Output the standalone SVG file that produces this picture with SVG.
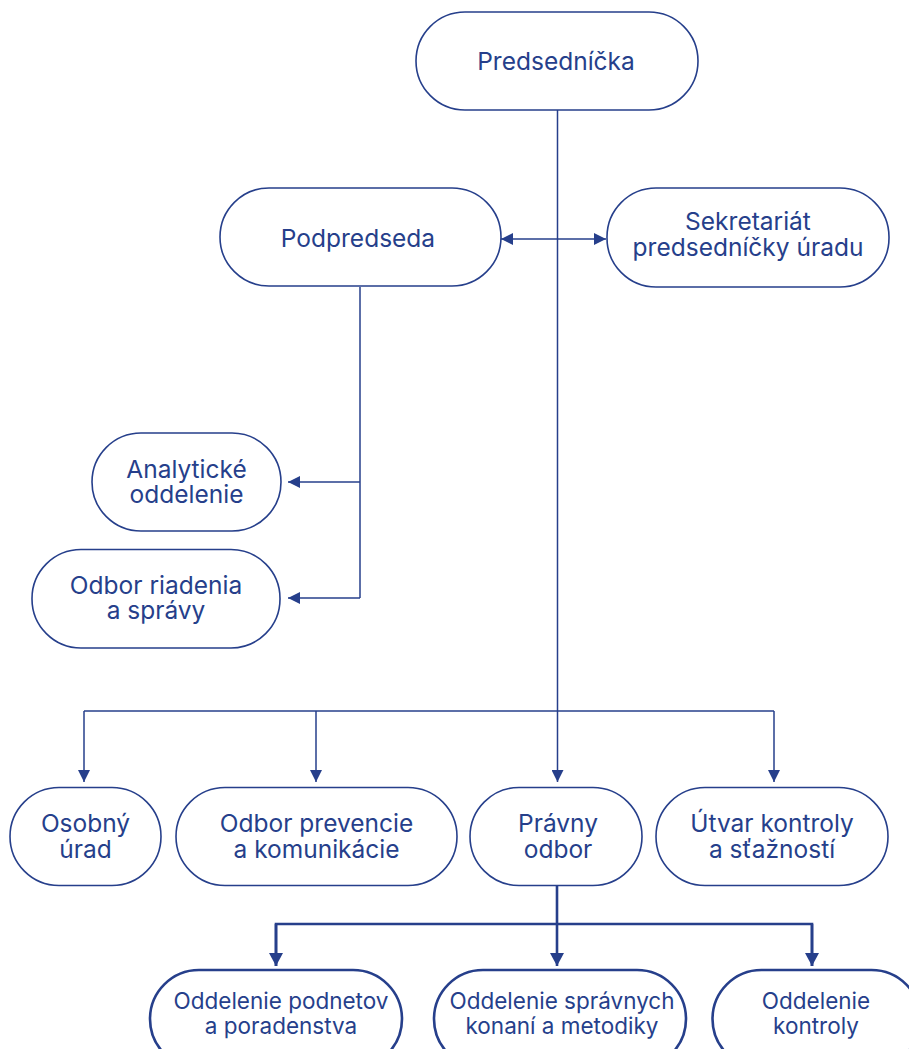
<svg xmlns="http://www.w3.org/2000/svg" width="909" height="1049" viewBox="0 0 909 1049">
<style>
.n rect{fill:#fff;stroke:#263f8b;stroke-width:1.6}
.n2 rect{fill:#fff;stroke:#263f8b;stroke-width:2.6}
text{font-family:Inter,"Noto Sans",sans-serif;fill:#263f8b;text-anchor:middle}
.t{font-size:24.5px}
.s{font-size:22.5px}
.c line,.c path{stroke:#263f8b;fill:none}
.thin{stroke-width:1.5}
.thick{stroke-width:2.6}
</style>
<defs>
<marker id="a" markerUnits="userSpaceOnUse" markerWidth="12" markerHeight="12" refX="12" refY="6" orient="auto-start-reverse"><path d="M0,0 L12,6 L0,12 z" fill="#263f8b"/></marker>
<marker id="b" markerUnits="userSpaceOnUse" markerWidth="13" markerHeight="14" refX="13" refY="7" orient="auto"><path d="M0,0 L13,7 L0,14 z" fill="#263f8b"/></marker>
</defs>
<g id="connectors" class="c">
<line class="thin" x1="557.5" y1="110" x2="557.5" y2="782" marker-end="url(#a)"/>
<line class="thin" x1="501" y1="239" x2="606" y2="239" marker-start="url(#a)" marker-end="url(#a)"/>
<line class="thin" x1="360" y1="287" x2="360" y2="598"/>
<line class="thin" x1="360" y1="482" x2="288" y2="482" marker-end="url(#a)"/>
<line class="thin" x1="360" y1="598" x2="288" y2="598" marker-end="url(#a)"/>
<line class="thin" x1="84" y1="711" x2="774" y2="711"/>
<line class="thin" x1="84" y1="711" x2="84" y2="782" marker-end="url(#a)"/>
<line class="thin" x1="316" y1="711" x2="316" y2="782" marker-end="url(#a)"/>
<line class="thin" x1="774" y1="711" x2="774" y2="782" marker-end="url(#a)"/>
<line class="thick" x1="557" y1="886" x2="557" y2="966" marker-end="url(#b)"/>
<path class="thick" d="M276,966 V924 H812 V966"/>
<line class="thick" x1="276" y1="924" x2="276" y2="966" marker-end="url(#b)"/>
<line class="thick" x1="812" y1="924" x2="812" y2="966" marker-end="url(#b)"/>
</g>
<g id="predsednicka" class="n"><rect x="416" y="12" width="282" height="98" rx="49"/><text class="t" x="556" y="69.5">Predsedníčka</text></g>
<g id="podpredseda" class="n"><rect x="220" y="188" width="281" height="98" rx="49"/><text class="t" x="358" y="246.5">Podpredseda</text></g>
<g id="sekretariat" class="n"><rect x="607" y="188" width="282" height="99" rx="49"/><text class="t" x="748" y="230">Sekretariát<tspan x="748" dy="26">predsedníčky úradu</tspan></text></g>
<g id="analyticke" class="n"><rect x="92" y="433" width="189" height="98" rx="49"/><text class="t" x="186.5" y="478">Analytické<tspan x="186.5" dy="25">oddelenie</tspan></text></g>
<g id="odbor-riadenia" class="n"><rect x="32" y="549.5" width="248" height="98.5" rx="49"/><text class="t" x="156" y="593.5">Odbor riadenia<tspan x="156" dy="25">a správy</tspan></text></g>
<g id="osobny" class="n"><rect x="10" y="787.5" width="151" height="98" rx="49"/><text class="t" x="85.5" y="832">Osobný<tspan x="85.5" dy="25.5">úrad</tspan></text></g>
<g id="odbor-prevencie" class="n"><rect x="176" y="787.5" width="281" height="98" rx="49"/><text class="t" x="316.5" y="832">Odbor prevencie<tspan x="316.5" dy="25.5">a komunikácie</tspan></text></g>
<g id="pravny" class="n"><rect x="470" y="787.5" width="172" height="98" rx="49"/><text class="t" x="558" y="832">Právny<tspan x="558" dy="25.5">odbor</tspan></text></g>
<g id="utvar" class="n"><rect x="656" y="787.5" width="232" height="98" rx="49"/><text class="t" x="772" y="832">Útvar kontroly<tspan x="772" dy="25.5">a sťažností</tspan></text></g>
<g id="podnetov" class="n2"><rect x="150" y="970" width="252" height="98" rx="49"/><text class="s" x="281" y="1008.5">Oddelenie podnetov<tspan x="281" dy="25">a poradenstva</tspan></text></g>
<g id="spravnych" class="n2"><rect x="434" y="970" width="252" height="98" rx="49"/><text class="s" x="562" y="1008.5">Oddelenie správnych<tspan x="562" dy="25">konaní a metodiky</tspan></text></g>
<g id="kontroly" class="n2"><rect x="712.5" y="970" width="208" height="98" rx="49"/><text class="s" x="816" y="1008.5">Oddelenie<tspan x="816" dy="25">kontroly</tspan></text></g>
</svg>
